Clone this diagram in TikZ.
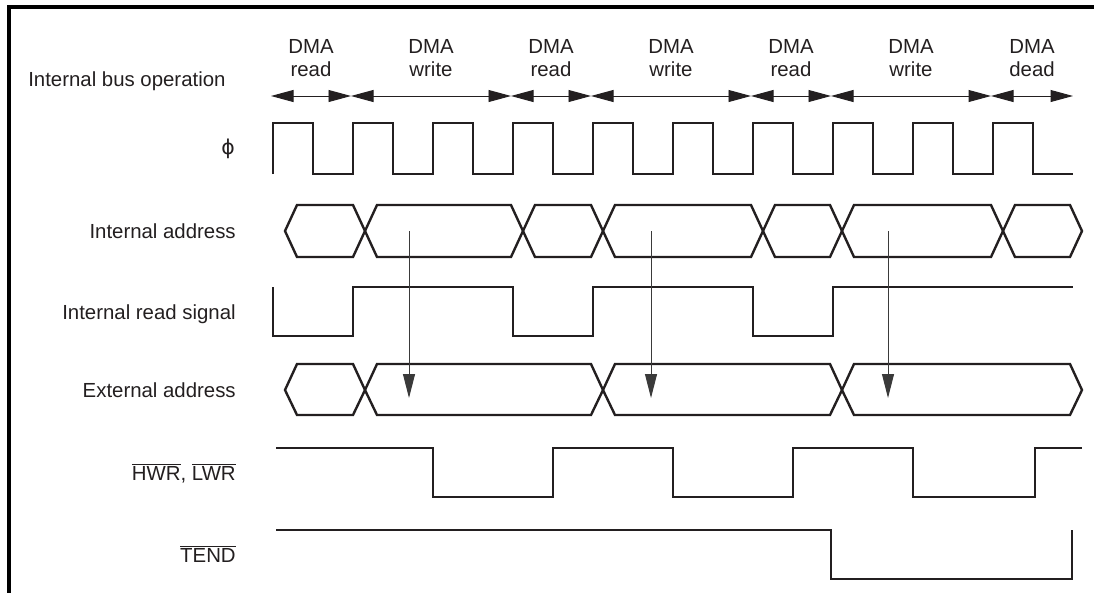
\documentclass[tikz,border=0pt]{standalone}
\usepackage{fontspec}
\setmainfont{Liberation Sans}
\newfontfamily\dmasym{DejaVu Sans}
\usepackage{tikz}
\usetikzlibrary{arrows.meta}
\definecolor{dmaink}{HTML}{231F20}
\definecolor{dmathin}{HTML}{3A3A3A}
\tikzset{
  sig/.style={draw=dmaink,line width=1.7pt,line join=miter},
  bus/.style={sig},
  opar/.style={{Triangle[length=16pt,width=8.5pt]}-{Triangle[length=16pt,width=8.5pt]},draw=dmaink,line width=0.7pt},
  ar/.style={-{Triangle[length=17pt,width=8.5pt]},draw=dmathin,line width=0.7pt},
  lbl/.style={anchor=base east,inner sep=0pt,text=dmaink,font=\fontsize{14.5}{13}\selectfont},
  oplbl/.style={anchor=north,inner sep=0pt,align=center,text=dmaink,font=\fontsize{14.5}{16.4}\selectfont},
}

\begin{document}
\begin{tikzpicture}[x=0.025cm,y=-0.025cm]
  \useasboundingbox (0,0) rectangle (1094,593);
  \draw[black,line width=2.2pt] (9,593) -- (9,7) -- (1094,7);
  % bus operation
  \node[lbl,anchor=base west] (lbus) at (28,86) {Internal bus operation};
  \foreach \a/\b in {271/351,351/511,511/591,591/751,751/831,831/991,991/1073}
    \draw[opar] (\a,96) -- (\b,96);
  \foreach \x/\t [count=\i] in {311/read,431/write,551/read,671/write,791/read,911/write,1032/dead}
    \node[oplbl] (op\i) at (\x,39) {DMA\\\t};
  % clock
  \node[lbl] (lphi) at (235,154) {\dmasym ϕ};
  \draw[sig] (273,174) \foreach \t in {273,353,...,993} { -- (\t,123) -- (\t+40,123) -- (\t+40,174) -- (\t+80,174) };
  % internal address
  \node[lbl] (liad) at (236,238) {Internal address};
  \foreach \a/\b in {285/365,365/523,523/603,603/763,763/842,842/1003,1003/1082}
    \draw[bus] (\a,231) -- (\a+12,205) -- (\b-12,205) -- (\b,231) -- (\b-12,257) -- (\a+12,257) -- cycle;
  \node[lbl] (lird) at (236,319) {Internal read signal};
  \draw[sig] (273,287) -- (273,336) -- (353,336) -- (353,287) -- (513,287) -- (513,336) -- (593,336) -- (593,287)
    -- (753,287) -- (753,336) -- (833,336) -- (833,287) -- (1073,287);
  % external address
  \node[lbl] (lead) at (236,397) {External address};
  \foreach \a/\b in {285/365,365/603,603/842,842/1082}
    \draw[bus] (\a,390) -- (\a+12,364) -- (\b-12,364) -- (\b,390) -- (\b-12,415) -- (\a+12,415) -- cycle;
  \foreach \x [count=\i] in {409,651,888} {
    \coordinate (ia\i) at (\x,231);
    \coordinate (ea\i) at (\x,398);
    \draw[ar] (ia\i) -- (ea\i);
  }
  % strobes
  \node[lbl] (lwr) at (236,480) {$\overline{\mbox{HWR}}$, $\overline{\mbox{LWR}}$};
  \draw[sig] (276,448) -- (433,448) -- (433,497) -- (553,497) -- (553,448) -- (673,448) -- (673,497) -- (793,497)
    -- (793,448) -- (913,448) -- (913,497) -- (1035,497) -- (1035,448) -- (1082,448);
  \node[lbl] (lend) at (236,562) {$\overline{\mbox{TEND}}$};
  \draw[sig] (276,530) -- (831,530) -- (831,579) -- (1072,579) -- (1072,530);
\end{tikzpicture}
\end{document}
